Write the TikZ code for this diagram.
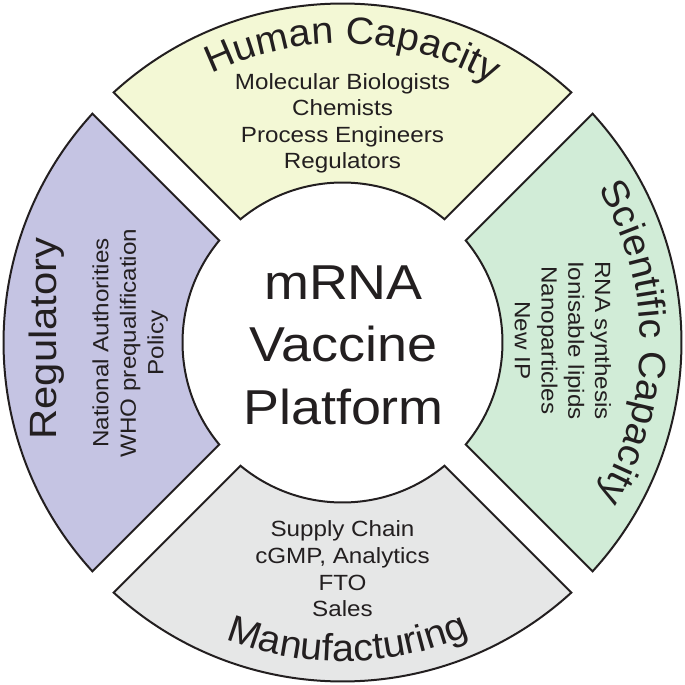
\documentclass[tikz,border=0pt]{standalone}
\usepackage{fontspec}
\setmainfont[FakeStretch=1.1]{Liberation Sans}
\newfontfamily\curvefamily[FakeStretch=1.04]{Liberation Sans}
\usetikzlibrary{decorations.text}
\definecolor{ink}{RGB}{35,31,32}
\definecolor{hcfill}{RGB}{243,248,213}
\definecolor{regfill}{RGB}{197,196,227}
\definecolor{scifill}{RGB}{209,236,215}
\definecolor{manfill}{RGB}{230,231,231}
\newcommand\headfont{\fontsize{38}{38}\selectfont}
\newcommand\curvefont{\curvefamily\fontsize{38}{38}\selectfont}
\newcommand\mysector[2]{%
  \filldraw[sectorline,fill=#2] ({#1-45+\dO}:\Ro) arc[start angle={#1-45+\dO}, end angle={#1+45-\dO}, radius=\Ro]
    -- ({#1+45-\dI}:\Ri) arc[start angle={#1+45-\dI}, end angle={#1-45+\dI}, radius=\Ri] -- cycle;}
\tikzset{
  sectorline/.style={draw=ink, line width=2pt, line join=miter},
  sub/.style={font=\fontsize{22}{22}\selectfont, text=ink, inner sep=0pt, anchor=base},
  core/.style={font=\fontsize{49}{49}\selectfont, text=ink, inner sep=0pt, anchor=base},
  head/.style={font=\headfont, text=ink, inner sep=0pt, anchor=base},
}
\begin{document}
\begin{tikzpicture}[x=1pt,y=1pt]
\useasboundingbox (-342.5,-342.5) rectangle (342.5,342.5);
\def\Ro{339}
\def\Ri{160}
\pgfmathsetmacro\dO{asin(15/339)}
\pgfmathsetmacro\dI{asin(15/160)}
% sectors
\mysector{90}{hcfill}
\mysector{180}{regfill}
\mysector{0}{scifill}
\mysector{270}{manfill}
% centre
\node[core] (core1) at (1,42.5) {mRNA};
\node[core] (core2) at (1,-19.5) {Vaccine};
\node[core] (core3) at (1,-82) {Platform};
% curved headings
\path[decorate, decoration={text along path, text align=center, text color=ink,
   text={|\curvefont|Human Capacity}}]
   (148:299) arc[start angle=148, end angle=28, radius=299];
\path[decorate, decoration={text along path, text align=center, text color=ink,
   text={|\curvefont|Scientific Capacity}}]
   (50:298) arc[start angle=50, end angle=-50, radius=298];
\path[decorate, decoration={text along path, text align=center, text color=ink,
   text={|\curvefont|Manufacturing}}]
   (216:319) arc[start angle=216, end angle=326, radius=319];
\node[head, rotate=90] (reghead) at (-285.5,4) {Regulatory};
% human capacity items
\foreach \t [count=\i] in {Molecular Biologists, Chemists, Process Engineers, Regulators}
  \node[sub] (hc\i) at (0,{253.2-26.4*(\i-1)}) {\t};
% scientific items
\foreach \t [count=\i] in {RNA synthesis, Ionisable lipids, Nanoparticles, New IP}
  \node[sub, rotate=-90] (sc\i) at ({252.5-26.7*(\i-1)},2) {\t};
% regulatory items
\foreach \t [count=\i] in {National Authorities, WHO prequalification, Policy}
  \node[sub, rotate=90] (rg\i) at ({-234.2+27.5*(\i-1)},-0.5) {\t};
% manufacturing items
\foreach \t [count=\i] in {Supply Chain, {cGMP, Analytics}, FTO, Sales}
  \node[sub] (mf\i) at (0,{-194.3-26.6*(\i-1)}) {\t};
\end{tikzpicture}
\end{document}
